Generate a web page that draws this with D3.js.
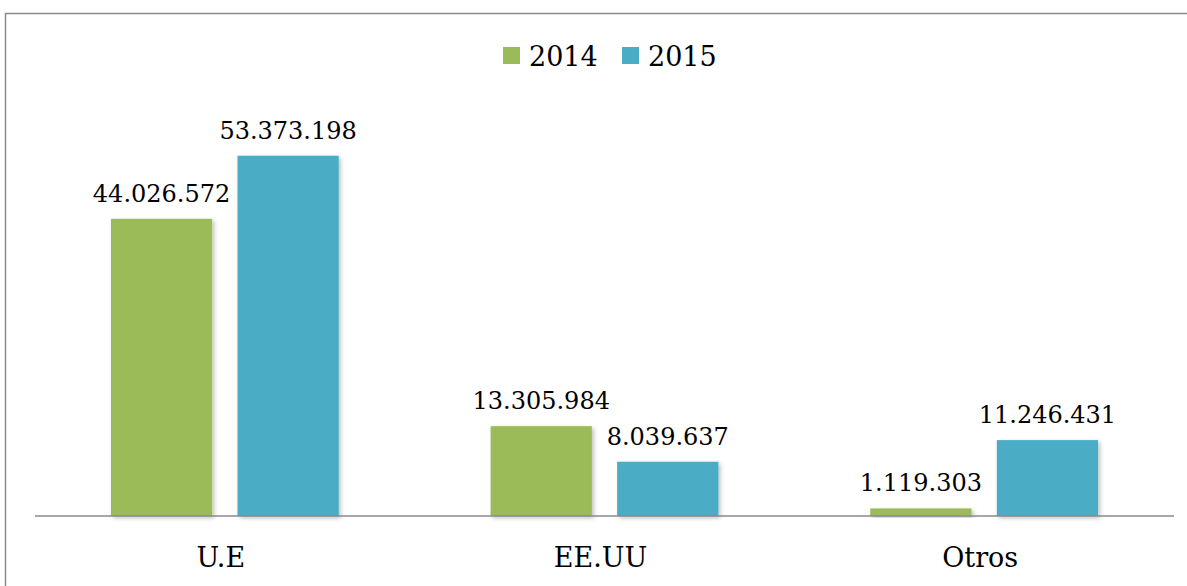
<html lang="es">
<head>
<meta charset="UTF-8">
<title>Exportaciones 2014 - 2015</title>
<style>
  body { margin: 0; background: #fff; }
  svg { display: block; }
  text { font-family: "DejaVu Serif", serif; fill: #000; }
</style>
</head>
<body>
<svg id="chart" width="1187" height="586"></svg>
<script src="https://d3js.org/d3.v7.min.js"></script>
<script>
// datos
const categories = ["U.E", "EE.UU", "Otros"];
const series = ["2014", "2015"];
const values2014 = [44026572, 13305984, 1119303];
const values2015 = [53373198, 8039637, 11246431];
const colors = ["#9BBB59", "#4BACC6"];

const fmt = v => d3.format(",")(v).replace(/,/g, ".");

const svg = d3.select("#chart");

// marco
svg.append("rect")
  .attr("x", 5.5).attr("y", 13.5)
  .attr("width", 1200).attr("height", 600)
  .attr("fill", "#fff").attr("stroke", "#8a8a8a").attr("stroke-width", 1.5);

const defs = svg.append("defs");
const f = defs.append("filter").attr("id", "sombra")
  .attr("x", "-10%").attr("y", "-10%").attr("width", "130%").attr("height", "130%");
f.append("feDropShadow").attr("dx", 2).attr("dy", 2).attr("stdDeviation", 2)
  .attr("flood-color", "#000").attr("flood-opacity", 0.25);

const plotLeft = 35, plotRight = 1174, plotBase = 516, plotTop = 111;

const x0 = d3.scaleBand().domain(categories).range([plotLeft, plotRight]);
const x1 = d3.scaleBand().domain(series).range([0, x0.bandwidth()])
  .paddingInner(0.2).paddingOuter(0.6);
const y = d3.scaleLinear().domain([0, 60000000]).range([plotBase, plotTop]);

const rows = categories.map((c, i) => ({
  cat: c,
  vals: [values2014[i], values2015[i]]
}));

const g = svg.selectAll("g.cat").data(rows).join("g")
  .attr("class", "cat")
  .attr("transform", d => `translate(${x0(d.cat)},0)`);

const bars = g.selectAll("g.bar")
  .data(d => d.vals.map((v, j) => ({ s: series[j], v, j })))
  .join("g").attr("class", "bar");

bars.append("rect")
  .attr("x", d => x1(d.s))
  .attr("y", d => y(d.v))
  .attr("width", x1.bandwidth())
  .attr("height", d => plotBase - y(d.v))
  .attr("fill", d => colors[d.j])
  .attr("filter", "url(#sombra)");

bars.append("text")
  .attr("x", d => x1(d.s) + x1.bandwidth() / 2)
  .attr("y", d => y(d.v) - 17)
  .attr("text-anchor", "middle")
  .attr("font-size", 24)
  .text(d => fmt(d.v));

// eje
svg.append("line")
  .attr("x1", plotLeft).attr("x2", plotRight)
  .attr("y1", plotBase).attr("y2", plotBase)
  .attr("stroke", "#8a8a8a").attr("stroke-width", 1.5);

svg.selectAll("text.catlab").data(categories).join("text")
  .attr("class", "catlab")
  .attr("x", d => x0(d) + x0.bandwidth() / 2 - 4)
  .attr("y", 567)
  .attr("text-anchor", "middle")
  .attr("font-size", 27)
  .text(d => d);

// leyenda
const legX = [503, 622];
const leg = svg.selectAll("g.leg").data(series).join("g")
  .attr("class", "leg")
  .attr("transform", (d, i) => `translate(${legX[i]},47)`);
leg.append("rect").attr("width", 17).attr("height", 17)
  .attr("fill", (d, i) => colors[i]);
leg.append("text").attr("x", 26).attr("y", 19)
  .attr("font-size", 27)
  .text(d => d);
</script>
</body>
</html>
